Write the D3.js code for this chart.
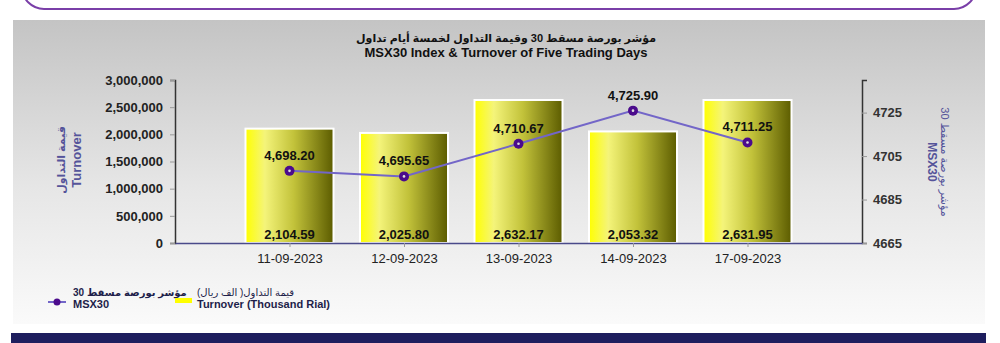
<!DOCTYPE html>
<html>
<head>
<meta charset="utf-8">
<script src="https://cdn.jsdelivr.net/npm/d3@7"></script>
<style>
  body { margin: 0; background: #fff; }
  svg { display: block; font-family: "Liberation Sans", "DejaVu Sans", sans-serif; }
</style>
</head>
<body>
<svg id="chart" width="1000" height="343"></svg>
<script>
// chart data
const dates = ["11-09-2023", "12-09-2023", "13-09-2023", "14-09-2023", "17-09-2023"];
const turnover = [2104590, 2025800, 2632170, 2053320, 2631950]; // plotted on the 0-3,000,000 axis
const msx30 = [4698.20, 4695.65, 4710.67, 4725.90, 4711.25];
const leftTicks = [0, 500000, 1000000, 1500000, 2000000, 2500000, 3000000];
const rightTicks = [4665, 4685, 4705, 4725];

const svg = d3.select("#chart");
const margin = { top: 80, left: 175, right: 138, bottom: 100 };
const width = 1000 - margin.left - margin.right;   // 687
const height = 343 - margin.top - margin.bottom;   // 163

const defs = svg.append("defs");

// panel background gradient
const bg = defs.append("linearGradient").attr("id", "bg")
    .attr("x1", 0).attr("y1", 0).attr("x2", 0).attr("y2", 1);
bg.append("stop").attr("offset", "0%").attr("stop-color", "#c4c4c4");
bg.append("stop").attr("offset", "55%").attr("stop-color", "#e6e6e6");
bg.append("stop").attr("offset", "100%").attr("stop-color", "#fafafa");

// bar gradient (yellow to olive)
const barGrad = defs.append("linearGradient").attr("id", "barGrad")
    .attr("x1", 0).attr("y1", 0).attr("x2", 1).attr("y2", 0);
barGrad.append("stop").attr("offset", "0%").attr("stop-color", "#ffff00");
barGrad.append("stop").attr("offset", "22%").attr("stop-color", "#f4f47a");
barGrad.append("stop").attr("offset", "55%").attr("stop-color", "#c2c23a");
barGrad.append("stop").attr("offset", "100%").attr("stop-color", "#5c5c00");

// top rounded box (cut by window)
svg.append("rect")
    .attr("x", 22).attr("y", -40).attr("width", 954).attr("height", 49)
    .attr("rx", 22)
    .attr("fill", "#fff").attr("stroke", "#7a3fa8").attr("stroke-width", 2);

// gray panel
svg.append("rect")
    .attr("x", 13).attr("y", 20).attr("width", 972).attr("height", 304)
    .attr("fill", "url(#bg)");

// navy footer
svg.append("rect")
    .attr("x", 11).attr("y", 333).attr("width", 975).attr("height", 12)
    .attr("fill", "#1e1e5e");

// titles
svg.append("text")
    .attr("x", 506).attr("y", 42)
    .attr("text-anchor", "middle")
    .attr("font-size", 11).attr("font-weight", "bold").attr("fill", "#111")
    .text("مؤشر بورصة مسقط 30 وقيمة التداول لخمسة أيام تداول");
svg.append("text")
    .attr("x", 506).attr("y", 57)
    .attr("text-anchor", "middle")
    .attr("font-size", 13).attr("font-weight", "bold").attr("fill", "#111")
    .text("MSX30 Index & Turnover of Five Trading Days");

const chart = svg.append("g")
    .attr("transform", `translate(${margin.left},${margin.top})`);

// scales
const x = d3.scalePoint().domain(dates).range([0, width]).padding(1);
const yLeft = d3.scaleLinear().domain([0, 3000000]).range([height, 0]);
const yRight = d3.scaleLinear().domain([4665, 4740]).range([height, 0]);

// axes
const leftAxis = chart.append("g")
    .call(d3.axisLeft(yLeft).tickValues(leftTicks).tickFormat(d3.format(",")).tickSize(5).tickPadding(7));
leftAxis.select(".domain").attr("stroke", "#333").attr("stroke-width", 1.5);
leftAxis.selectAll(".tick line").attr("stroke", "#999");
leftAxis.selectAll(".tick text")
    .attr("font-size", 13).attr("font-weight", "bold").attr("fill", "#222")
    .attr("font-family", "Liberation Sans, sans-serif");

const rightAxis = chart.append("g")
    .attr("transform", `translate(${width},0)`)
    .call(d3.axisRight(yRight).tickValues(rightTicks).tickFormat(d3.format("d")).tickSize(5).tickPadding(6));
rightAxis.select(".domain").attr("stroke", "#333").attr("stroke-width", 1.5);
rightAxis.selectAll(".tick line").attr("stroke", "#999");
rightAxis.selectAll(".tick text")
    .attr("font-size", 13).attr("font-weight", "bold").attr("fill", "#333")
    .attr("font-family", "Liberation Sans, sans-serif");

// bars
const barW = 88;
chart.selectAll("rect.bar")
    .data(dates)
    .join("rect")
    .attr("class", "bar")
    .attr("x", d => x(d) - barW / 2)
    .attr("y", (d, i) => yLeft(turnover[i]))
    .attr("width", barW)
    .attr("height", (d, i) => height - yLeft(turnover[i]))
    .attr("fill", "url(#barGrad)")
    .attr("stroke", "#fff")
    .attr("stroke-width", 2);

// x axis
const bottomAxis = chart.append("g")
    .attr("transform", `translate(0,${height})`)
    .call(d3.axisBottom(x).tickSize(4).tickPadding(7).tickSizeOuter(0));
bottomAxis.select(".domain").attr("stroke", "#4a4a8a").attr("stroke-width", 1.5);
bottomAxis.selectAll(".tick line").attr("stroke", "#999");
bottomAxis.selectAll(".tick text")
    .attr("font-size", 13).attr("fill", "#222")
    .attr("font-family", "Liberation Sans, sans-serif");

// bar value labels (thousand rial)
chart.selectAll("text.barval")
    .data(dates)
    .join("text")
    .attr("class", "barval")
    .attr("x", d => x(d))
    .attr("y", height - 4)
    .attr("text-anchor", "middle")
    .attr("font-size", 13).attr("font-weight", "bold").attr("fill", "#111")
    .text((d, i) => d3.format(",.2f")(turnover[i] / 1000));

// MSX30 line
const line = d3.line()
    .x((d, i) => x(dates[i]))
    .y(d => yRight(d));
chart.append("path")
    .datum(msx30)
    .attr("fill", "none")
    .attr("stroke", "#7366c8")
    .attr("stroke-width", 2)
    .attr("d", line);

chart.selectAll("circle.pt")
    .data(msx30)
    .join("circle")
    .attr("class", "pt")
    .attr("cx", (d, i) => x(dates[i]))
    .attr("cy", d => yRight(d))
    .attr("r", 5)
    .attr("fill", "#4b0b8c");
chart.selectAll("circle.ptc")
    .data(msx30)
    .join("circle")
    .attr("class", "ptc")
    .attr("cx", (d, i) => x(dates[i]))
    .attr("cy", d => yRight(d))
    .attr("r", 1.3)
    .attr("fill", "#ddd");

chart.selectAll("text.lineval")
    .data(msx30)
    .join("text")
    .attr("class", "lineval")
    .attr("x", (d, i) => x(dates[i]))
    .attr("y", d => yRight(d) - 11)
    .attr("text-anchor", "middle")
    .attr("font-size", 13).attr("font-weight", "bold").attr("fill", "#111")
    .text(d => d3.format(",.2f")(d));

// axis titles
const leftTitle = svg.append("text")
    .attr("transform", "translate(65,160) rotate(-90)")
    .attr("text-anchor", "middle")
    .attr("fill", "#55549a");
leftTitle.append("tspan").attr("x", 0).attr("dy", 0)
    .attr("font-size", 11).attr("font-weight", "bold").text("قيمة التداول");
leftTitle.append("tspan").attr("x", 0).attr("dy", 16)
    .attr("font-size", 13).attr("font-weight", "bold").text("Turnover");

const rightTitle = svg.append("text")
    .attr("transform", "translate(941,162) rotate(90)")
    .attr("text-anchor", "middle")
    .attr("fill", "#55549a");
rightTitle.append("tspan").attr("x", 0).attr("dy", 0)
    .attr("font-size", 11).text("مؤشر بورصة مسقط 30");
rightTitle.append("tspan").attr("x", 0).attr("dy", 13)
    .attr("font-size", 12).attr("font-weight", "bold").text("MSX30");

// legend
const legend = svg.append("g");
legend.append("line")
    .attr("x1", 48).attr("x2", 66).attr("y1", 302).attr("y2", 302)
    .attr("stroke", "#7366c8").attr("stroke-width", 2);
legend.append("circle")
    .attr("cx", 57).attr("cy", 302).attr("r", 3.5).attr("fill", "#4b0b8c");
legend.append("text")
    .attr("x", 73).attr("y", 296)
    .attr("font-size", 10).attr("font-weight", "bold").attr("fill", "#1e1e4a")
    .text("مؤشر بورصة مسقط 30");
legend.append("text")
    .attr("x", 73).attr("y", 308)
    .attr("font-size", 11).attr("font-weight", "bold").attr("fill", "#1e1e4a")
    .text("MSX30");

legend.append("rect")
    .attr("x", 175).attr("y", 298).attr("width", 17).attr("height", 5)
    .attr("fill", "#ffff00");
legend.append("text")
    .attr("x", 197).attr("y", 296)
    .attr("font-size", 10).attr("fill", "#1e1e4a")
    .text("قيمة التداول( الف ريال)");
legend.append("text")
    .attr("x", 197).attr("y", 308)
    .attr("font-size", 11).attr("font-weight", "bold").attr("fill", "#1e1e4a")
    .text("Turnover (Thousand Rial)");
</script>
</body>
</html>
